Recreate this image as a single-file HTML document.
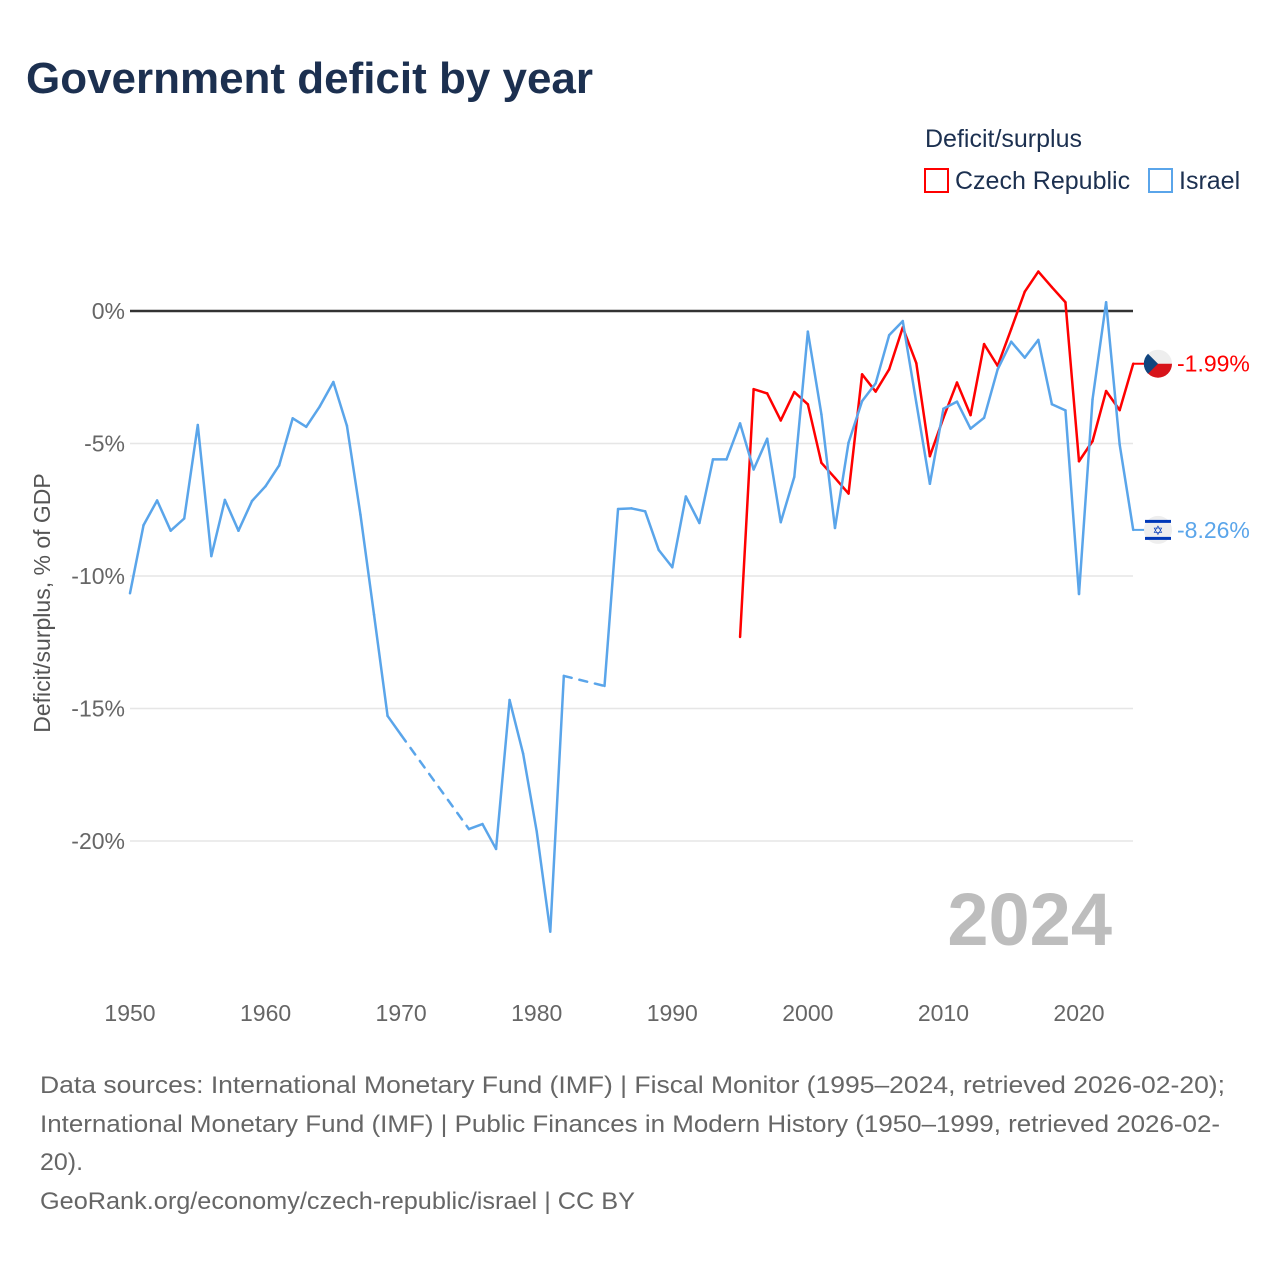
<!DOCTYPE html>
<html><head><meta charset="utf-8"><style>
body{margin:0;background:#fff;font-family:"Liberation Sans",sans-serif;}
#wrap{position:relative;width:1280px;height:1280px;overflow:hidden;}
</style></head><body>
<div id="wrap">
<svg id="chart" width="1280" height="1280" xmlns="http://www.w3.org/2000/svg">
<text x="26" y="93" font-size="44" font-weight="bold" fill="#1c3050" textLength="567" lengthAdjust="spacingAndGlyphs">Government deficit by year</text>
<text x="925" y="147" font-size="25" fill="#1c3050">Deficit/surplus</text>
<g><rect x="925" y="169" width="23" height="23" fill="none" stroke="#ff0000" stroke-width="2"/><text x="955" y="189" font-size="25" fill="#1c3050">Czech Republic</text></g>
<g><rect x="1149" y="169" width="23" height="23" fill="none" stroke="#5aa5ea" stroke-width="2"/><text x="1179" y="189" font-size="25" fill="#1c3050">Israel</text></g>
<text transform="translate(50,603) rotate(-90)" text-anchor="middle" font-size="23" fill="#555">Deficit/surplus, % of GDP</text>
<g id="grid"></g><g id="series"></g>
<text x="1112" y="945" text-anchor="end" font-size="74" font-weight="bold" fill="#bdbdbd">2024</text>
<g font-size="24" fill="#666">
<text x="40" y="1093" textLength="1185" lengthAdjust="spacingAndGlyphs">Data sources: International Monetary Fund (IMF) | Fiscal Monitor (1995–2024, retrieved 2026-02-20);</text>
<text x="40" y="1132" textLength="1180" lengthAdjust="spacingAndGlyphs">International Monetary Fund (IMF) | Public Finances in Modern History (1950–1999, retrieved 2026-02-</text>
<text x="40" y="1170" textLength="43" lengthAdjust="spacingAndGlyphs">20).</text>
<text x="40" y="1209" textLength="595" lengthAdjust="spacingAndGlyphs">GeoRank.org/economy/czech-republic/israel | CC BY</text>
</g>
</svg>
</div>
<script>
const yTicks=[0,-5,-10,-15,-20];
const yTickLabels=["0%","-5%","-10%","-15%","-20%"];
const xTicks=[1950,1960,1970,1980,1990,2000,2010,2020];
const israelYears=[1950,1951,1952,1953,1954,1955,1956,1957,1958,1959,1960,1961,1962,1963,1964,1965,1966,1967,1968,1969,1970,1975,1976,1977,1978,1979,1980,1981,1982,1985,1986,1987,1988,1989,1990,1991,1992,1993,1994,1995,1996,1997,1998,1999,2000,2001,2002,2003,2004,2005,2006,2007,2008,2009,2010,2011,2012,2013,2014,2015,2016,2017,2018,2019,2020,2021,2022,2023,2024];
const israelValues=[-10.65,-8.08,-7.15,-8.29,-7.83,-4.30,-9.25,-7.13,-8.29,-7.17,-6.61,-5.83,-4.05,-4.37,-3.60,-2.68,-4.33,-7.69,-11.46,-15.28,-16.0,-19.55,-19.36,-20.30,-14.68,-16.71,-19.64,-23.42,-13.77,-14.15,-7.47,-7.45,-7.56,-9.02,-9.67,-7.0,-8.0,-5.6,-5.6,-4.24,-5.98,-4.82,-7.97,-6.26,-0.78,-3.90,-8.19,-4.97,-3.40,-2.73,-0.91,-0.38,-3.46,-6.52,-3.69,-3.42,-4.44,-4.03,-2.20,-1.16,-1.76,-1.09,-3.52,-3.75,-10.68,-3.33,0.33,-5.04,-8.26];
const czechYears=[1995,1996,1997,1998,1999,2000,2001,2002,2003,2004,2005,2006,2007,2008,2009,2010,2011,2012,2013,2014,2015,2016,2017,2018,2019,2020,2021,2022,2023,2024];
const czechValues=[-12.30,-2.95,-3.11,-4.13,-3.06,-3.52,-5.73,-6.30,-6.89,-2.39,-3.04,-2.20,-0.62,-1.97,-5.48,-4.03,-2.70,-3.93,-1.25,-2.07,-0.68,0.73,1.49,0.90,0.33,-5.67,-4.91,-3.02,-3.74,-1.99];
const NS='http://www.w3.org/2000/svg';
const X=y=>130+(y-1950)*(1079-130)/70;
const Y=v=>311-v*26.5;
function mk(t,a,p){const e=document.createElementNS(NS,t);for(const k in a)e.setAttribute(k,a[k]);p.appendChild(e);return e;}
const grid=document.getElementById('grid'),ser=document.getElementById('series');
yTicks.forEach((t,i)=>{
 if(t!==0){const l=mk('line',{x1:130,x2:1133,y1:Y(t),y2:Y(t),stroke:'#e6e6e6','stroke-width':1.5},grid);
 
 }
 const tx=mk('text',{x:125,y:Y(t)+8,'text-anchor':'end','font-size':23,fill:'#666'},grid);tx.textContent=yTickLabels[i];
 
 
});
xTicks.forEach(t=>{const tx=mk('text',{x:X(t),y:1021,'text-anchor':'middle','font-size':23,fill:'#666'},grid);tx.textContent=t;
 
 });
const zl=mk('line',{x1:130,x2:1133,y1:Y(0),y2:Y(0),stroke:'#333','stroke-width':2.5},grid);


function draw(years,vals,color,name){
 for(let i=1;i<years.length;i++){
  const gap=years[i]-years[i-1]>1;
  const l=mk('line',{x1:X(years[i-1]),y1:Y(vals[i-1]),x2:X(years[i]),y2:Y(vals[i]),stroke:color,'stroke-width':2.5,'stroke-linecap':'round'},ser);
  if(gap)l.setAttribute('stroke-dasharray','8 8');
  
  
 }
 const n=years.length-1,yy=Y(vals[n]);
 mk('line',{x1:X(years[n]),x2:1145,y1:yy,y2:yy,stroke:color,'stroke-width':2},ser);
 const t=mk('text',{x:1177,y:yy+8,'font-size':23,fill:color},ser);t.textContent=vals[n].toFixed(2)+'%';
 
 
 return yy;
}
const cy=draw(czechYears,czechValues,'#ff0000','czech-line');
const iy=draw(israelYears,israelValues,'#5aa5ea','israel-line');
const fc=mk('g',{},ser);


mk('circle',{cx:1158,cy:cy,r:14,fill:'#eee'},fc);
mk('path',{d:`M1144 ${cy} A14 14 0 0 0 1172 ${cy} Z`,fill:'#d7141a'},fc);
mk('path',{d:`M1148 ${cy-10} L1158 ${cy} L1148 ${cy+10} A14 14 0 0 1 1148 ${cy-10} Z`,fill:'#11457e'},fc);
const fi=mk('g',{},ser);


mk('circle',{cx:1158,cy:iy,r:14,fill:'#eee'},fi);
mk('rect',{x:1145,y:iy-10,width:26,height:3,fill:'#0038b8'},fi);
mk('rect',{x:1145,y:iy+7,width:26,height:3,fill:'#0038b8'},fi);
const st=mk('text',{x:1158,y:iy+5,'text-anchor':'middle','font-size':13,fill:'#0038b8'},fi);st.textContent='✡';
</script>
</body></html>
